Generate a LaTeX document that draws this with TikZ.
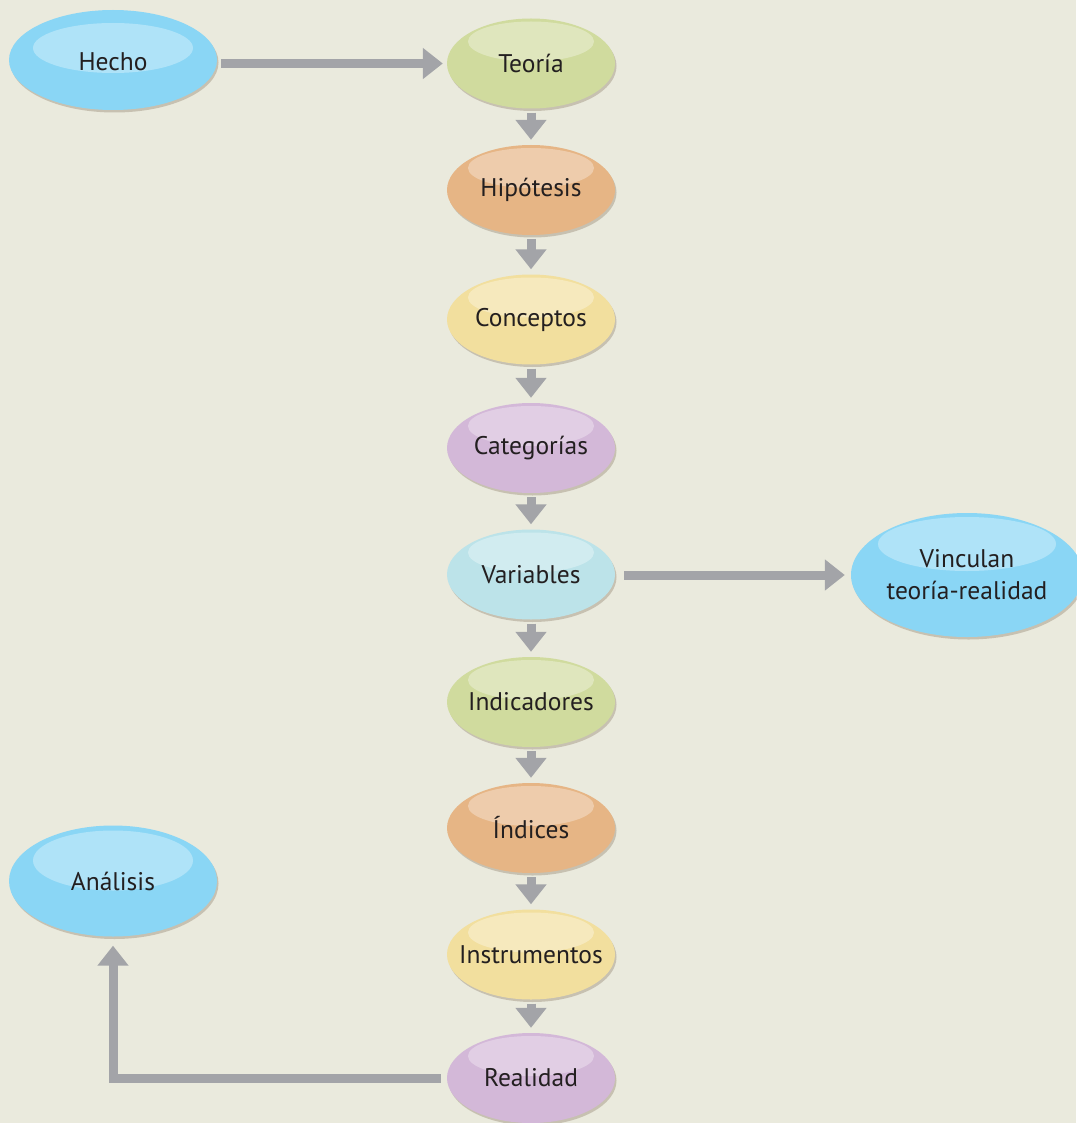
\documentclass[tikz,border=0pt]{standalone}
\usepackage{fontspec}
\setmainfont{PT Sans}
\usetikzlibrary{shapes.geometric,shadows,arrows.meta,calc}

\definecolor{fondo}{HTML}{EAEADD}
\definecolor{azul}{HTML}{8AD6F5}
\definecolor{verde}{HTML}{D0DB9E}
\definecolor{naranja}{HTML}{E6B585}
\definecolor{amarillo}{HTML}{F2DF9E}
\definecolor{lila}{HTML}{D3B8D8}
\definecolor{celeste}{HTML}{BCE3E9}
\definecolor{gris}{HTML}{A3A4A8}
\definecolor{letra}{HTML}{231F20}

\tikzset{
  texto/.style={font=\fontsize{25.5}{32}\selectfont, text=letra, align=center},
  burbuja/.style={ellipse, fill=#1, inner sep=0pt,
    minimum width=168pt, minimum height=90pt,
    drop shadow={shadow xshift=1.5pt, shadow yshift=-2.5pt, opacity=.22, fill=black!60!brown}},
  brillo/.style n args={3}{path picture={
    \fill[white,opacity=.32] ($(path picture bounding box.north)+(0,#1)$)
      ellipse [x radius=#2, y radius=#3];}},
  flecha/.style={gris, line width=9pt, -{Triangle[width=30pt,length=20pt]}},
}

\begin{document}
\begin{tikzpicture}[x=1pt,y=-1pt]
  \fill[fondo] (0,0) rectangle (1076,1123);
  \useasboundingbox (0,0) rectangle (1076,1123);

  % the blue ones at the ends
  \node (hecho) [burbuja=azul, minimum width=208pt, minimum height=100pt, brillo={38}{80}{25},
    label={[texto, yshift=-2pt]center:Hecho}] at (113,60) {};
  \node (vinculo) [burbuja=azul, minimum width=232pt, minimum height=124pt, brillo={31}{89}{27},
    label={[texto]center:Vinculan\\teoría-realidad}] at (967,575) {};
  \node (analisis) [burbuja=azul, minimum width=208pt, minimum height=111pt, brillo={35}{80}{30},
    label={[texto]center:Análisis}] at (113,881) {};

  % central column
  \node (teoria) [burbuja=verde, brillo={23}{63}{20}, label={[texto]center:Teoría}] at (531,63.5) {};
  \node (hipotesis) [burbuja=naranja, brillo={23}{63}{20}, label={[texto]center:Hipótesis}] at (531,190) {};
  \node (conceptos) [burbuja=amarillo, brillo={23}{63}{20}, label={[texto]center:Conceptos}] at (531,319.5) {};
  \node (categorias) [burbuja=lila, brillo={23}{63}{20}, label={[texto]center:Categorías}] at (531,448) {};
  \node (variables) [burbuja=celeste, brillo={23}{63}{20}, label={[texto]center:Variables}] at (531,574.5) {};
  \node (indicadores) [burbuja=verde, brillo={23}{63}{20}, label={[texto]center:Indicadores}] at (531,702) {};
  \node (indices) [burbuja=naranja, brillo={23}{63}{20}, label={[texto]center:Índices}] at (531,828) {};
  \node (instrumentos) [burbuja=amarillo, brillo={23}{63}{20}, label={[texto]center:Instrumentos}] at (531,954.5) {};
  \node (realidad) [burbuja=lila, brillo={23}{63}{20}, label={[texto]center:Realidad}] at (531,1078) {};

  % arrows
  \draw [flecha, shorten <=4pt, shorten >=4pt] (hecho.east |- teoria.west) -- (teoria.west);
  \draw [flecha, shorten <=4pt, shorten >=5pt] (teoria) -- (hipotesis);
  \draw [flecha, shorten <=4pt, shorten >=5pt] (hipotesis) -- (conceptos);
  \draw [flecha, shorten <=4pt, shorten >=5pt] (conceptos) -- (categorias);
  \draw [flecha, shorten <=4pt, shorten >=5pt] (categorias) -- (variables);
  \draw [flecha, shorten <=4pt, shorten >=5pt] (variables) -- (indicadores);
  \draw [flecha, shorten <=4pt, shorten >=5pt] (indicadores) -- (indices);
  \draw [flecha, shorten <=4pt, shorten >=5pt] (indices) -- (instrumentos);
  \draw [flecha, shorten <=4pt, shorten >=5pt] (instrumentos) -- (realidad);
  \draw [flecha, shorten <=9pt, shorten >=6pt] (variables.east |- vinculo.west) -- (vinculo.west);
  \draw [flecha, shorten <=6pt, shorten >=9pt] (realidad.west) -| (analisis.south);
\end{tikzpicture}
\end{document}
